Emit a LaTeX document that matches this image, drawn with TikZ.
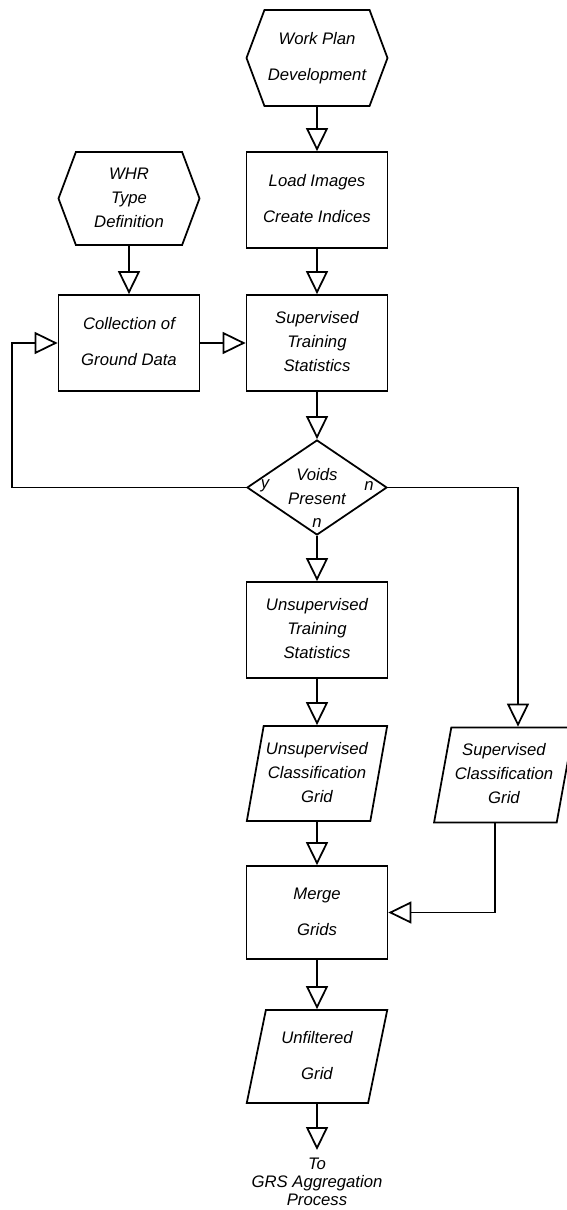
\documentclass[tikz,border=0pt]{standalone}
\usepackage{fontspec}
\setmainfont{Liberation Sans}
\usetikzlibrary{arrows.meta,shapes.geometric,shapes.symbols}

\tikzset{
    flow/.style={-{Triangle[open, length=0.46cm, width=0.44cm]}},
    hexbox/.style={draw, shape=signal, signal to=west and east, signal pointer angle=139,
        inner sep=1pt, minimum width=2.82cm, minimum height=1.92cm},
    procbox/.style={draw, rectangle, minimum width=2.82cm, minimum height=1.92cm},
    gridbox/.style={draw, trapezium, trapezium left angle=77.5, trapezium right angle=102.5,
        trapezium stretches=true, inner sep=1pt, minimum width=2.82cm, minimum height=1.9cm},
    decision/.style={draw, diamond, aspect=1.47, inner sep=0pt, minimum width=2.8cm, minimum height=1.9cm}
}

\begin{document}
\begin{tikzpicture}[line width=1pt, every node/.append style={font=\fontsize{9.5}{13.6}\selectfont\itshape}]
    \useasboundingbox (0,0) rectangle (11.32,-24.2);

    % main column
    \node[hexbox] (wpd) at (6.34,-1.16) {
        \begin{tabular}{@{}c@{}}
            Work Plan \\[6.8pt]
            Development
        \end{tabular}
    };
    \node[procbox] (lic) at (6.34,-4.0) {
        \begin{tabular}{@{}c@{}}
            Load Images \\[6.8pt]
            Create Indices
        \end{tabular}
    };
    \node[procbox] (sts) at (6.34,-6.86) {
        \begin{tabular}{@{}c@{}}
            Supervised \\
            Training \\
            Statistics
        \end{tabular}
    };
    \node[decision] (vp) at (6.34,-9.75) {
        \begin{tabular}{@{}c@{}}
            Voids \\
            Present
        \end{tabular}
    };
    \node[procbox] (uts) at (6.34,-12.6) {
        \begin{tabular}{@{}c@{}}
            Unsupervised \\
            Training \\
            Statistics
        \end{tabular}
    };
    \node[gridbox] (ucg) at (6.34,-15.47) {
        \begin{tabular}{@{}c@{}}
            Unsupervised \\
            Classification \\
            Grid
        \end{tabular}
    };
    \node[procbox, minimum height=1.86cm] (mg) at (6.34,-18.25) {
        \begin{tabular}{@{}c@{}}
            Merge \\[6.8pt]
            Grids
        \end{tabular}
    };
    \node[gridbox, minimum height=1.86cm] (ufg) at (6.34,-21.13) {
        \begin{tabular}{@{}c@{}}
            Unfiltered \\[6.8pt]
            Grid
        \end{tabular}
    };
    \node[anchor=north, inner xsep=1pt, inner ysep=3.5pt, font=\fontsize{9.5}{10.2}\selectfont\itshape] (gap) at (6.34,-23.0) {
        \begin{tabular}{@{}c@{}}
            To \\
            GRS Aggregation \\
            Process
        \end{tabular}
    };

    % left column
    \node[hexbox, minimum height=1.86cm] (whr) at (2.58,-3.97) {
        \begin{tabular}{@{}c@{}}
            WHR \\
            Type \\
            Definition
        \end{tabular}
    };
    \node[procbox] (cgd) at (2.58,-6.86) {
        \begin{tabular}{@{}c@{}}
            Collection of \\[6.8pt]
            Ground Data
        \end{tabular}
    };

    % right column
    \node[gridbox] (scg) at (10.08,-15.5) {
        \begin{tabular}{@{}c@{}}
            Supervised \\
            Classification \\
            Grid
        \end{tabular}
    };

    % branch labels
    \node (ly) at (5.30,-9.72) {y};
    \node (lnr) at (7.38,-9.72) {n};
    \node (lnb) at (6.34,-10.46) {n};

    \coordinate (lp) at (0.24,-9.75);
    \coordinate (rp) at (10.36,-9.75);

    \draw[flow] (wpd) -- (lic);
    \draw[flow] (lic) -- (sts);
    \draw[flow] (whr) -- (cgd);
    \draw[flow] (cgd) -- (sts);
    \draw[flow] (sts) -- (vp);
    \draw[flow] (vp.west) -- (lp) |- (cgd.west);
    \draw[flow] (vp) -- (uts);
    \draw[flow] (vp.east) -- (rp) -- (rp |- scg.north);
    \draw[flow] (uts) -- (ucg);
    \draw[flow] (ucg) -- (mg);
    \draw[flow] (scg.bottom side) |- (mg.east);
    \draw[flow] (mg) -- (ufg);
    \draw[flow] (ufg) -- (gap.north);
\end{tikzpicture}
\end{document}
